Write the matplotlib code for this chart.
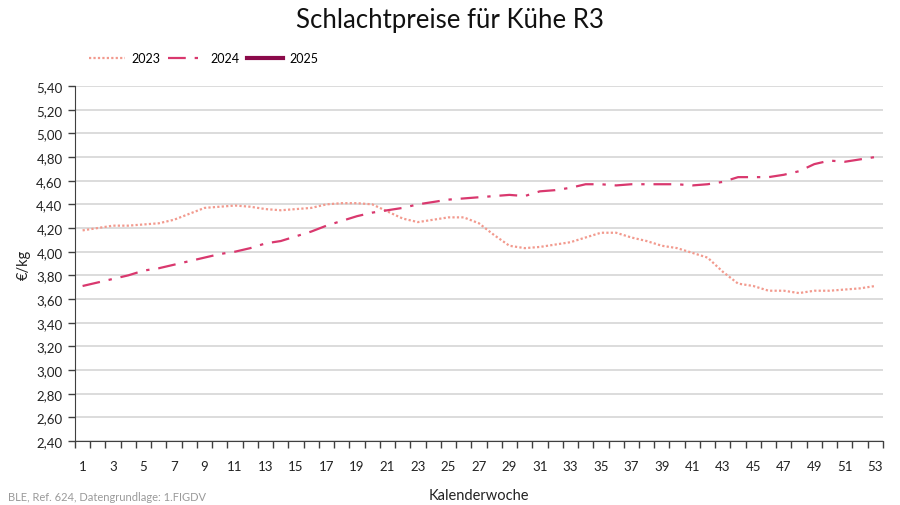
import matplotlib
matplotlib.use("Agg")
import matplotlib.pyplot as plt
from matplotlib.ticker import FixedLocator, FuncFormatter
import numpy as np

weeks = list(range(1, 54))
prices_2023 = [4.18, 4.20, 4.22, 4.22, 4.23, 4.24, 4.27, 4.32, 4.37, 4.38,
               4.39, 4.38, 4.36, 4.35, 4.36, 4.37, 4.40, 4.41, 4.41, 4.40,
               4.34, 4.28, 4.25, 4.27, 4.29, 4.29, 4.24, 4.14, 4.05, 4.03,
               4.04, 4.06, 4.08, 4.12, 4.16, 4.16, 4.12, 4.09, 4.05, 4.03,
               3.99, 3.95, 3.83, 3.73, 3.71, 3.67, 3.67, 3.65, 3.67, 3.67,
               3.68, 3.69, 3.71]
prices_2024 = [3.71, 3.74, 3.77, 3.80, 3.84, 3.86, 3.89, 3.92, 3.95, 3.98,
               4.00, 4.03, 4.07, 4.09, 4.13, 4.17, 4.22, 4.26, 4.30, 4.33,
               4.35, 4.37, 4.40, 4.42, 4.44, 4.45, 4.46, 4.47, 4.48, 4.47,
               4.51, 4.52, 4.54, 4.57, 4.57, 4.56, 4.57, 4.57, 4.57, 4.57,
               4.56, 4.57, 4.59, 4.63, 4.63, 4.63, 4.65, 4.68, 4.74, 4.77,
               4.76, 4.78, 4.80]
prices_2025 = []
y_ticks = [2.40, 2.60, 2.80, 3.00, 3.20, 3.40, 3.60, 3.80, 4.00, 4.20,
           4.40, 4.60, 4.80, 5.00, 5.20, 5.40]
x_labels = list(range(1, 54, 2))

plt.rcParams['font.family'] = ['Lato', 'DejaVu Sans']

fig = plt.figure(figsize=(9, 5.06), dpi=100)
ax = fig.add_axes([0.0833, 0.1265, 0.8977, 0.7015])

c23 = '#F29A8E'
c24 = '#D9386E'
c25 = '#8B0A4A'

ax.plot(weeks, prices_2023, color=c23, lw=1.6, ls=(0, (1, 1)), label='2023')
ax.plot(weeks, prices_2024, color=c24, lw=1.6, ls=(0, (8, 4, 1.5, 4)), label='2024')
ax.plot(weeks[:len(prices_2025)], prices_2025, color=c25, lw=3, label='2025')

ax.set_xlim(0.5, 53.5)
ax.set_ylim(2.40, 5.40)
ax.yaxis.set_major_locator(FixedLocator(y_ticks))
ax.yaxis.set_major_formatter(FuncFormatter(lambda v, p: f"{v:.2f}".replace('.', ',')))
ax.grid(axis='y', color='#D9D9D9', lw=1.3)
ax.set_axisbelow(True)

ax.xaxis.set_major_locator(FixedLocator(np.arange(0.5, 54, 1)))
ax.xaxis.set_major_formatter(FuncFormatter(lambda v, p: ''))
ax.xaxis.set_minor_locator(FixedLocator(x_labels))
ax.xaxis.set_minor_formatter(FuncFormatter(lambda v, p: f"{int(round(v))}"))
ax.tick_params(axis='x', which='major', length=5, width=1, color='#404040', direction='out')
ax.tick_params(axis='x', which='minor', length=0, pad=14, labelsize=9.5, labelcolor='#222222')
ax.tick_params(axis='y', length=5, width=1, color='#404040', labelsize=9.5, labelcolor='#222222', pad=4)

for s in ['top', 'right']:
    ax.spines[s].set_visible(False)
ax.spines['left'].set_color('#404040')
ax.spines['bottom'].set_color('#404040')

ax.set_ylabel('€/kg', fontsize=10.5, color='#222222', labelpad=4)
ax.set_xlabel('Kalenderwoche', fontsize=10.5, color='#222222', labelpad=11)

fig.suptitle('Schlachtpreise für Kühe R3', fontsize=18.5, x=0.5, y=0.985, color='#111111')

leg = fig.legend(loc='center left', bbox_to_anchor=(0.086, 0.883), ncol=3, frameon=False,
                 fontsize=9, handlelength=2.9, columnspacing=0.6, handletextpad=0.5)

fig.text(0.009, 0.01, 'BLE, Ref. 624, Datengrundlage: 1.FIGDV', fontsize=8, color='#9A9A9A')

fig.savefig('out.png', dpi=100)
